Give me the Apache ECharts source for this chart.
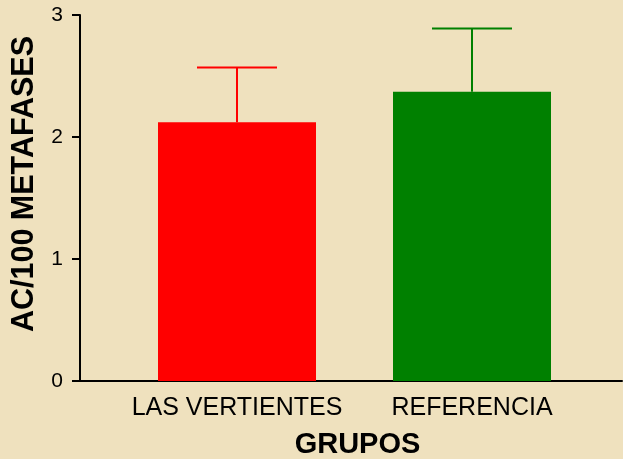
<!DOCTYPE html>
<html>
<head>
<meta charset="utf-8">
<script src="https://cdn.jsdelivr.net/npm/echarts@6/dist/echarts.min.js"></script>
<style>
  html, body { margin: 0; padding: 0; background: #efe1be; }
  #chart { width: 623px; height: 459px; }
</style>
</head>
<body>
<div id="chart"></div>
<script>
const categories = ['LAS VERTIENTES', 'REFERENCIA']
const means = [2.12, 2.37]
const upper = [2.57, 2.89]
const barColors = ['#ff0000', '#008000']

const FONT = 'Arial, "Liberation Sans", sans-serif'

const chart = echarts.init(document.getElementById('chart'), null, { renderer: 'canvas' })

chart.setOption({
  backgroundColor: '#efe1be',
  animation: false,
  grid: [
    { left: 119.5, right: 33.5, top: 15, bottom: 78, outerBoundsMode: 'none', containLabel: false },
    { left: 80, right: 1, top: 15, bottom: 78, outerBoundsMode: 'none', containLabel: false },
  ],
  xAxis: [
    {
      type: 'category',
      gridIndex: 0,
      data: categories,
      axisLine: { show: false },
      axisTick: { show: false },
      axisLabel: { fontSize: 25, color: '#000', fontFamily: FONT, margin: 15, interval: 0 },
      name: 'GRUPOS',
      nameLocation: 'middle',
      nameGap: 49,
      nameTextStyle: {
        fontSize: 29, fontWeight: 'bold', color: '#000', fontFamily: FONT,
        padding: [0, 0, 0, 6],
      },
    },
    {
      type: 'value',
      gridIndex: 1,
      min: 0,
      max: 1,
      axisLine: { show: true, lineStyle: { color: '#000', width: 2 } },
      axisTick: { show: false },
      axisLabel: { show: false },
      splitLine: { show: false },
    },
  ],
  yAxis: [
    { type: 'value', gridIndex: 0, min: 0, max: 3, show: false },
    {
      type: 'value',
      gridIndex: 1,
      min: 0,
      max: 3,
      interval: 1,
      axisLine: { show: true, lineStyle: { color: '#000', width: 2 } },
      axisTick: { show: true, length: 8, lineStyle: { color: '#000', width: 2 } },
      axisLabel: { fontSize: 21, color: '#000', fontFamily: FONT, margin: 17 },
      splitLine: { show: false },
      name: 'AC/100 METAFASES',
      nameLocation: 'middle',
      nameRotate: 90,
      nameGap: 40,
      nameTextStyle: {
        fontSize: 30.5, fontWeight: 'bold', color: '#000', fontFamily: FONT,
        padding: [0, 0, 0, 28],
      },
    },
  ],
  series: [
    {
      type: 'bar',
      xAxisIndex: 0,
      yAxisIndex: 0,
      barWidth: 158,
      data: means.map((v, i) => ({ value: v, itemStyle: { color: barColors[i] } })),
    },
    {
      type: 'custom',
      xAxisIndex: 0,
      yAxisIndex: 0,
      data: means.map((v, i) => [i, v, upper[i]]),
      renderItem: (params, api) => {
        const i = api.value(0)
        const base = api.coord([i, api.value(1)])
        const top = api.coord([i, api.value(2)])
        const half = 40
        const style = { stroke: barColors[i], lineWidth: 2 }
        return {
          type: 'group',
          children: [
            { type: 'line', shape: { x1: base[0], y1: base[1], x2: top[0], y2: top[1] }, style },
            { type: 'line', shape: { x1: top[0] - half, y1: top[1], x2: top[0] + half, y2: top[1] }, style },
          ],
        }
      },
      z: 1,
    },
  ],
})
</script>
</body>
</html>
